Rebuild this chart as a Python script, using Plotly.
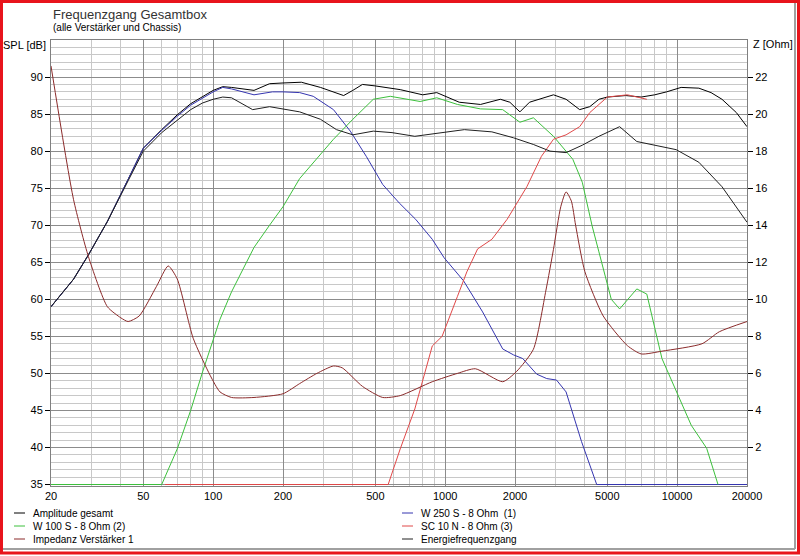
import plotly.graph_objects as go

# -----------------------------
# data
# -----------------------------
amp_f = [20, 25, 29, 35, 43, 50, 60, 70, 80, 90, 100, 110, 120, 150, 175, 200, 240, 290, 365, 400,
         440, 500, 640, 800, 920, 1150, 1420, 1730, 1900, 2100, 2310, 2930, 3320, 3800, 4200, 4600,
         5000, 6000, 7000, 8000, 9000, 10400, 12400, 14000, 15600, 18000, 20000]
amp_db = [59.0, 62.7, 66.0, 70.5, 76.2, 80.4, 82.9, 84.9, 86.4, 87.3, 88.2, 88.7, 88.6, 88.2, 89.1, 89.2, 89.3, 88.6, 87.5, 88.2,
          89.0, 88.8, 88.3, 87.6, 87.9, 86.6, 86.3, 87.0, 86.6, 85.3, 86.6, 87.6, 87.0, 85.6, 86.0, 87.0,
          87.3, 87.5, 87.3, 87.6, 88.0, 88.6, 88.5, 87.9, 87.0, 85.2, 83.3]

w250_f = [20, 25, 29, 35, 43, 50, 60, 70, 80, 90, 100, 110, 120, 150, 180, 200, 236, 270, 330, 390,
          457, 538, 634, 746, 880, 990, 1200, 1450, 1770, 1970, 2160, 2480, 2740, 3020, 3320, 3870,
          4500, 20000]
w250_db = [59.0, 62.7, 66.0, 70.5, 76.2, 80.4, 82.8, 84.7, 86.2, 87.2, 88.0, 88.6, 88.4, 87.6, 88.0, 88.0, 87.9, 87.4, 85.6, 82.7,
           79.3, 75.5, 73.0, 70.8, 68.1, 65.6, 62.5, 58.3, 53.3, 52.5, 52.0, 49.9, 49.3, 49.1, 47.5, 40.8,
           35.0, 35.0]

w100_f = [20, 60, 70, 80, 90, 107, 120, 150, 175, 200, 236, 330, 400, 490, 580, 780, 920, 1130, 1420, 1770,
          2100, 2400, 2930, 3550, 3900, 4300, 4600, 5200, 5650, 6700, 7400, 8600, 11500, 13400, 15000]
w100_db = [35.0, 35.0, 39.8, 45.0, 50.2, 57.3, 61.0, 67.0, 70.0, 72.5, 76.3, 81.6, 84.3, 87.0, 87.4, 86.7, 87.2, 86.3, 85.7, 85.6,
           83.9, 84.5, 82.0, 78.9, 75.8, 69.9, 66.4, 60.0, 58.7, 61.4, 60.7, 52.0, 43.0, 39.9, 35.0]

sc10_f = [62, 568, 640, 740, 880, 970, 1130, 1240, 1380, 1590, 1850, 2250, 2600, 2930, 3320, 3800, 4200,
          5000, 6100, 7400]
sc10_db = [35.0, 35.0, 39.8, 45.2, 53.7, 55.0, 60.4, 63.7, 66.8, 68.1, 70.8, 75.2, 79.3, 81.6, 82.2, 83.3, 85.2,
           87.3, 87.6, 87.0]

imp_f = [20, 25, 29, 35, 40, 43, 48, 57, 64, 70, 82, 97, 107, 120, 150, 200, 236, 280, 330, 360,
         440, 538, 640, 880, 1130, 1350, 1770, 2030, 2400, 2720, 2930, 3150, 3320, 3500, 3650, 4000,
         4800, 6100, 7000, 8600, 12800, 15200, 20000]
imp_ohm = [22.6, 15.4, 12.3, 9.6, 9.0, 8.8, 9.1, 10.7, 11.8, 11.1, 7.9, 5.9, 5.0, 4.7, 4.7, 4.9, 5.45, 6.0, 6.4, 6.3,
           5.3, 4.7, 4.8, 5.55, 6.0, 6.25, 5.55, 6.1, 7.3, 10.5, 12.7, 15.0, 15.8, 15.3, 14.0, 11.5,
           9.1, 7.5, 7.05, 7.2, 7.6, 8.25, 8.8]

energy_f = [20, 25, 29, 35, 43, 50, 60, 70, 80, 90, 100, 110, 120, 148, 175, 236, 290, 340, 400, 490,
            590, 740, 960, 1210, 1590, 1970, 2400, 2830, 3320, 3900, 4600, 5000, 5650, 6700, 9900,
            12400, 15600, 20000]
energy_db = [59.0, 62.7, 66.0, 70.5, 76.0, 80.0, 82.5, 84.2, 85.6, 86.5, 87.0, 87.3, 87.2, 85.6, 86.0, 85.3, 84.3, 82.9, 82.2, 82.7,
             82.5, 82.0, 82.5, 82.9, 82.6, 81.8, 80.9, 80.0, 79.8, 80.8, 82.0, 82.5, 83.3, 81.3, 80.2,
             78.5, 75.2, 70.4]

x_ticks = [20, 50, 100, 200, 500, 1000, 2000, 5000, 10000, 20000]
x_minor = [30, 40, 60, 70, 80, 90, 300, 400, 600, 700, 800, 900,
           3000, 4000, 6000, 7000, 8000, 9000]
spl_ticks = [35, 40, 45, 50, 55, 60, 65, 70, 75, 80, 85, 90]
z_ticks = [2, 4, 6, 8, 10, 12, 14, 16, 18, 20, 22]

FONT = "Liberation Sans, Arial, sans-serif"

# plot area in pixels
L, R, T, B = 51, 747, 40, 486
SPL_LO = 34.8   # a hair under 35 so the flat 35 dB tails stay visible


def px_x(px):
    return (px - L) / (R - L)


def px_y(py):
    return (B - py) / (B - T)


series = [
    ("Amplitude gesamt", amp_f, amp_db, "#000000", "y"),
    ("W 250 S - 8 Ohm  (1)", w250_f, w250_db, "#3535b0", "y"),
    ("W 100 S - 8 Ohm (2)", w100_f, w100_db, "#3cc03c", "y"),
    ("SC 10 N - 8 Ohm (3)", sc10_f, sc10_db, "#e04848", "y"),
    ("Impedanz Verstärker 1", imp_f, imp_ohm, "#8b2b2b", "y2"),
    ("Energiefrequenzgang", energy_f, energy_db, "#202020", "y"),
]

fig = go.Figure()
for name, f, v, col, ax in series:
    # the impedance is a smooth curve, the rest stay as plain polylines
    shape = "spline" if ax == "y2" else "linear"
    fig.add_trace(go.Scatter(x=f, y=v, mode="lines", name=name, yaxis=ax,
                             line=dict(color=col, width=1, shape=shape, smoothing=0.6),
                             showlegend=False))

# hand-made legend in two columns, like the original program
legend_pos = [(14, 31, 513), (402, 419, 513), (14, 31, 526), (402, 419, 526), (14, 31, 539), (402, 419, 539)]
annotations = []
shapes = []
for (name, f, v, col, ax), (lx, tx, ly) in zip(series, legend_pos):
    shapes.append(dict(type="line", xref="paper", yref="paper",
                       x0=px_x(lx), x1=px_x(lx + 11), y0=px_y(ly), y1=px_y(ly),
                       line=dict(color=col, width=1)))
    annotations.append(dict(text=name, xref="paper", yref="paper", x=px_x(tx), y=px_y(ly),
                            xanchor="left", yanchor="middle", showarrow=False,
                            font=dict(size=10, color="#000000", family=FONT)))

annotations += [
    dict(text="Frequenzgang Gesamtbox", xref="paper", yref="paper", x=px_x(51), y=px_y(14),
         xanchor="left", yanchor="middle", showarrow=False, font=dict(size=13, color="#333333", family=FONT)),
    dict(text="(alle Verstärker und Chassis)", xref="paper", yref="paper", x=px_x(51), y=px_y(28),
         xanchor="left", yanchor="middle", showarrow=False, font=dict(size=10, color="#000000", family=FONT)),
    dict(text="SPL [dB]", xref="paper", yref="paper", x=px_x(48), y=px_y(45),
         xanchor="right", yanchor="middle", showarrow=False, font=dict(size=11, color="#000000", family=FONT)),
    dict(text="Z [Ohm]", xref="paper", yref="paper", x=px_x(751), y=px_y(44),
         xanchor="left", yanchor="middle", showarrow=False, font=dict(size=11, color="#000000", family=FONT)),
]

# window frame: grey inner edge and red outer border
shapes += [
    dict(type="line", xref="paper", yref="paper", x0=px_x(795), x1=px_x(795), y0=px_y(2), y1=px_y(549),
         line=dict(color="#a0a0a0", width=2)),
    dict(type="line", xref="paper", yref="paper", x0=px_x(2), x1=px_x(795), y0=px_y(549), y1=px_y(549),
         line=dict(color="#a0a0a0", width=2)),
    dict(type="rect", xref="paper", yref="paper", x0=px_x(1.5), x1=px_x(798.5), y0=px_y(1.5), y1=px_y(553),
         line=dict(color="#e8141c", width=3)),
]

fig.update_layout(
    width=800, height=556,
    margin=dict(l=L, r=800 - R, t=T, b=556 - B),
    paper_bgcolor="white", plot_bgcolor="white",
    font=dict(family=FONT, size=11, color="#000000"),
    annotations=annotations,
    shapes=shapes,
    xaxis=dict(type="log", range=[1.30103, 4.30103], tickvals=x_ticks,
               ticktext=[str(t) for t in x_ticks], showgrid=True, gridcolor="#8c8c8c", gridwidth=1,
               ticks="", showline=True, linecolor="#808080", mirror=True, zeroline=False,
               minor=dict(tickvals=x_minor, showgrid=True, gridcolor="#c8c8c8", ticks="")),
    yaxis=dict(range=[SPL_LO, 95], tickvals=spl_ticks, showgrid=True, gridcolor="#8c8c8c",
               ticks="outside", ticklen=5, tickcolor="#000000", showline=True, linecolor="#808080",
               mirror=True, zeroline=False,
               minor=dict(dtick=1, showgrid=True, gridcolor="#c8c8c8", ticks="")),
    yaxis2=dict(range=[(SPL_LO - 35) * 0.4, 24], tickvals=z_ticks, overlaying="y", side="right",
                showgrid=False, ticks="outside", ticklen=5, tickcolor="#000000", zeroline=False,
                showline=False),
)

# the page body has an 8px default margin; drop it so the figure sits at the window corner
fig.write_html("out.html", config={"displayModeBar": False},
               post_script="document.body.style.margin='0';")
